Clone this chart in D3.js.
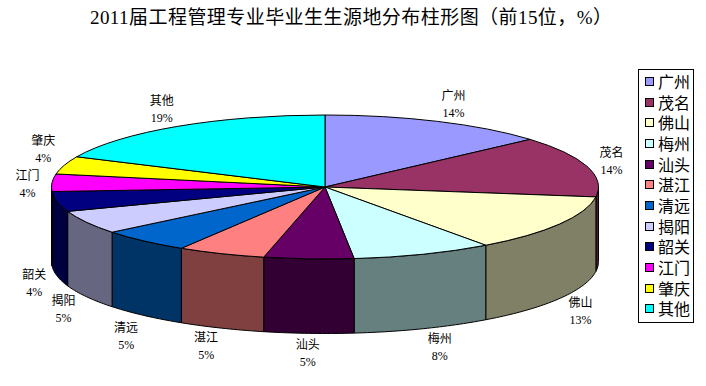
<!DOCTYPE html>
<html><head><meta charset="utf-8">
<script src="https://cdn.jsdelivr.net/npm/d3@7/dist/d3.min.js"></script>
<style>html,body{margin:0;background:#fff}svg{display:block}
text{font-family:"Liberation Serif","Noto Sans CJK SC",serif;fill:#000}
.e{vector-effect:non-scaling-stroke}</style></head><body>
<svg id="c" width="706" height="386"></svg>
<script>
const titleText="2011届工程管理专业毕业生生源地分布柱形图（前15位，%）";
const categories=["广州","茂名","佛山","梅州","汕头","湛江","清远","揭阳","韶关","江门","肇庆","其他"];
const shares=[13.5,13.7,12.8,8.3,5.3,5.2,5.4,5.3,4.5,3.9,4.0,18.1];
const percentLabels=["14%","14%","13%","8%","5%","5%","5%","5%","4%","4%","4%","19%"];
const topColors=["#9999FF","#993366","#FFFFCC","#CCFFFF","#660066","#FF8080","#0066CC","#CCCCFF","#000080","#FF00FF","#FFFF00","#00FFFF"];
const labelNudgeX=[16,24.5,21,16.5,-1,-15,-18,-23,-23,-24.5,-21,-16];
const labelNudgeY=[-17,-5,12.6,18,20,17.6,20,12,7,1.5,-16,-17.5];

const cx=325,cy=187,rx=273.5,ry=72,depth=74.5;
const svg=d3.select("#c");
const pie=d3.pie().value(d=>d).sort(null)(shares);
const px=a=>cx+rx*Math.sin(a), py=a=>cy-ry*Math.cos(a);
const dark=c=>{const q=d3.rgb(c);return d3.rgb(q.r/2,q.g/2,q.b/2).formatHex();};

// side walls (front half only)
const wall=d3.area().x(a=>px(a)).y0(a=>py(a)).y1(a=>py(a)+depth);
const frontFace=svg.append("g");
pie.forEach((s,i)=>{
  const a0=Math.max(s.startAngle,Math.PI/2),a1=Math.min(s.endAngle,3*Math.PI/2);
  if(a1<=a0)return;
  const n=Math.max(2,Math.ceil((a1-a0)*60));
  frontFace.append("path").attr("d",wall(d3.range(n+1).map(k=>a0+(a1-a0)*k/n)))
    .attr("fill",dark(topColors[i])).attr("stroke","#000").attr("stroke-width",1);
});
// top
const arc=d3.arc().innerRadius(0).outerRadius(rx);
const topFace=svg.append("g").attr("transform",`translate(${cx},${cy}) scale(1,${ry/rx})`);
topFace.selectAll("path").data(pie).join("path").attr("class","e").attr("d",arc)
  .attr("fill",(d,i)=>topColors[i]).attr("stroke","#000").attr("stroke-width",1);

// labels
const lab=svg.append("g").attr("text-anchor","middle");
pie.forEach((s,i)=>{
  const a=(s.startAngle+s.endAngle)/2;
  const isFront=Math.cos(a)<0;
  const x=px(a)+labelNudgeX[i], y=py(a)+(isFront?depth:0)+labelNudgeY[i];
  lab.append("text").attr("x",x).attr("y",y-4).attr("font-size",12).text(categories[i]);
  lab.append("text").attr("x",x).attr("y",y+13).attr("font-size",12).text(percentLabels[i]);
});

// title
svg.append("text").attr("x",351).attr("y",24).attr("text-anchor","middle").attr("font-size",19).attr("textLength",522).text(titleText);

// legend
const legX=638,legY=69,legW=55,legH=253,step=20.65;
const leg=svg.append("g");
leg.append("rect").attr("x",legX+.5).attr("y",legY+.5).attr("width",legW).attr("height",legH).attr("fill","#fff").attr("stroke","#000");
categories.forEach((c,i)=>{
  const y=legY+13+i*step;
  leg.append("rect").attr("x",645.5).attr("y",Math.round(y-4)+.5-1).attr("width",8).attr("height",8).attr("fill",topColors[i]).attr("stroke","#000");
  leg.append("text").attr("x",658).attr("y",y+6).attr("font-size",16).text(c);
});
</script></body></html>
